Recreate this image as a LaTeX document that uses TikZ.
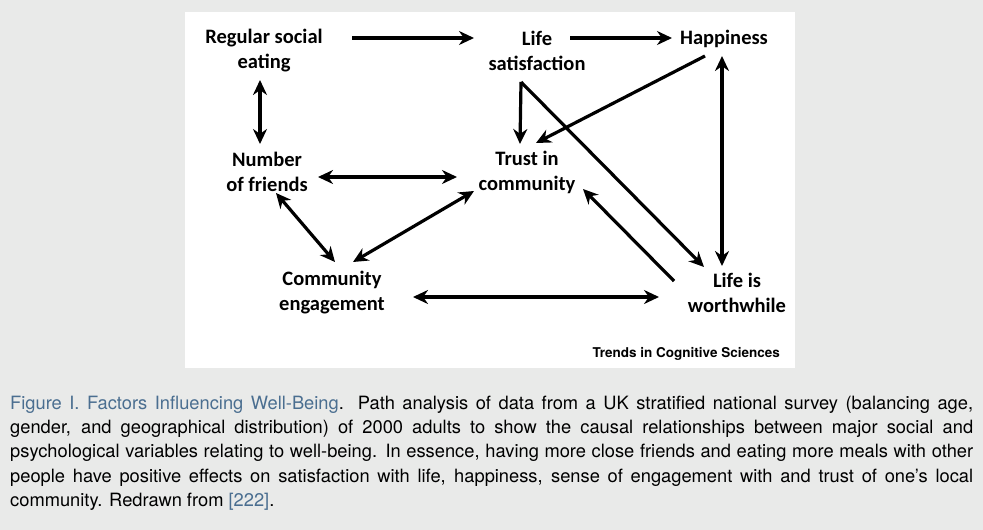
\documentclass[tikz,border=0pt]{standalone}
\usepackage{fontspec}
\setmainfont{TeX Gyre Heros}
\newfontfamily\lab{Carlito}
\usetikzlibrary{arrows.meta}
\definecolor{bgc}{HTML}{E9EAE9}
\definecolor{capblue}{HTML}{4A6E90}
\tikzset{
 lbl/.style={font=\lab\bfseries\fontsize{20.5}{25}\selectfont,align=center,inner sep=0pt},
 ar/.style={line width=3.2pt,-{Stealth[length=15pt,width=14pt]}},
 dar/.style={line width=3.2pt,{Stealth[length=15pt,width=14pt]}-{Stealth[length=15pt,width=14pt]}}
}
\begin{document}
\begin{tikzpicture}[x=1pt,y=-1pt]
\fill[bgc] (0,0) rectangle (983,530);
\fill[white] (185,12) rectangle (795,368);
\node[lbl] (rse) at (264,51) {Regular social\\eating};
\node[lbl] (ls) at (537,51) {Life\\satisfaction};
\node[lbl] (hap) at (724,39) {Happiness};
\node[lbl] (nf) at (267,172) {Number\\of friends};
\node[lbl] (tc) at (527,172) {Trust in\\community};
\node[lbl] (ce) at (332,293) {Community\\engagement};
\node[lbl] (lw) at (737,293) {Life is\\worthwhile};
\coordinate (a1) at (352,38); \coordinate (a2) at (474,38);
\coordinate (b1) at (570,38); \coordinate (b2) at (672,38);
\coordinate (c1) at (260,80); \coordinate (c2) at (260,144);
\coordinate (d1) at (318,177); \coordinate (d2) at (457,177);
\coordinate (e1) at (276,193); \coordinate (e2) at (335,262);
\coordinate (f1) at (353,262); \coordinate (f2) at (474,191);
\coordinate (g1) at (413,297); \coordinate (g2) at (659,297);
\coordinate (h1) at (705,56); \coordinate (h2) at (536,143);
\coordinate (s0) at (521,82); \coordinate (s1) at (520,144);
\coordinate (s2) at (704,267);
\coordinate (w1) at (674,281); \coordinate (w2) at (583,189);
\coordinate (k1) at (722,56); \coordinate (k2) at (722,266);
\draw[ar] (a1) -- (a2);
\draw[ar] (b1) -- (b2);
\draw[dar] (c1) -- (c2);
\draw[dar] (d1) -- (d2);
\draw[dar] (e1) -- (e2);
\draw[dar] (f1) -- (f2);
\draw[dar] (g1) -- (g2);
\draw[ar] (h1) -- (h2);
\draw[ar] (s0) -- (s1);
\draw[ar,line join=miter] (s0) -- (s2);
\draw[ar] (w1) -- (w2);
\draw[dar] (k1) -- (k2);
\node[font=\bfseries\fontsize{13.5}{15}\selectfont,anchor=east,inner sep=0pt] (tcs) at (780,354) {Trends in Cognitive Sciences};
\node[anchor=north west,inner sep=0pt,text width=963pt,align=justify,font=\fontsize{18.3}{24.2}\selectfont] (cap) at (10,396)
{\textcolor{capblue}{Figure I. Factors Influencing Well-Being}. Path analysis of data from a UK stratified national survey (balancing age,\linebreak gender, and geographical distribution) of 2000 adults to show the causal relationships between major social and\linebreak psychological variables relating to well-being. In essence, having more close friends and eating more meals with other\linebreak people have positive effects on satisfaction with life, happiness, sense of engagement with and trust of one's local\linebreak community. Redrawn from \textcolor{capblue}{[222]}.};
\end{tikzpicture}
\end{document}
